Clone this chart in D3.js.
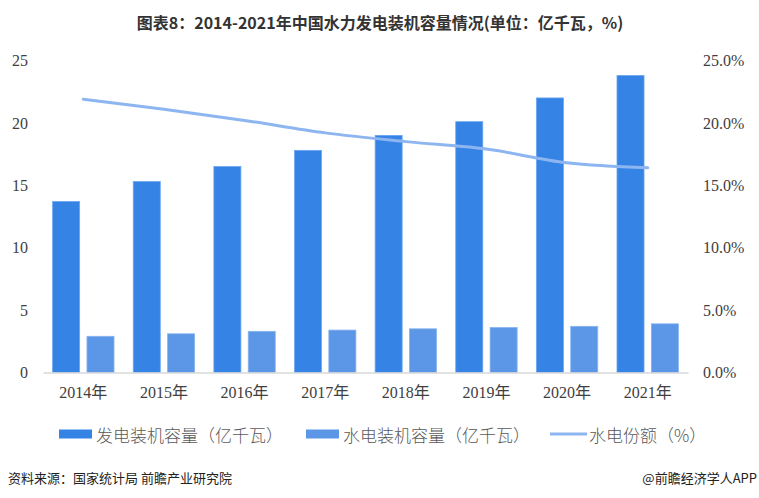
<!DOCTYPE html>
<html>
<head>
<meta charset="utf-8">
<script src="https://cdn.jsdelivr.net/npm/d3@7/dist/d3.min.js"></script>
<style>
  html, body { margin: 0; padding: 0; background: #fff; }
  svg { display: block; }
</style>
</head>
<body>
<svg id="chart" width="759" height="498"></svg>
<script>
const years = ["2014年","2015年","2016年","2017年","2018年","2019年","2020年","2021年"];
const totalCapacity = [13.7, 15.3, 16.5, 17.8, 19.0, 20.1, 22.0, 23.8];
const hydroCapacity = [2.9, 3.1, 3.3, 3.4, 3.5, 3.6, 3.7, 3.9];
const hydroShare = [0.219, 0.211, 0.202, 0.192, 0.185, 0.179, 0.168, 0.164];
const leftTicks = [0, 5, 10, 15, 20, 25];
const rightTicks = [0, 0.05, 0.10, 0.15, 0.20, 0.25];
const seriesNames = ["发电装机容量（亿千瓦）", "水电装机容量（亿千瓦）", "水电份额（%）"];
const titleText = "图表8：2014-2021年中国水力发电装机容量情况(单位：亿千瓦，%)";
const sourceText = "资料来源：国家统计局 前瞻产业研究院";
const brandText = "@前瞻经济学人APP";

const colors = { total: "#3683e6", hydro: "#5b97e6", line: "#8db5f0" };

const svg = d3.select("#chart");
const plot = { left: 43, right: 688, top: 60.5, bottom: 372.5 };

const x = d3.scaleBand().domain(years).range([plot.left, plot.right]).paddingInner(0).paddingOuter(0);
const x1 = d3.scaleBand().domain(["total","hydro"]).range([0, x.bandwidth()]).paddingInner(0.213).paddingOuter(0.28);
const y = d3.scaleLinear().domain([0, 25]).range([plot.bottom, plot.top]);
const y2 = d3.scaleLinear().domain([0, 0.25]).range([plot.bottom, plot.top]);

// Title
svg.append("text")
  .attr("x", 380).attr("y", 22)
  .attr("text-anchor", "middle").attr("dominant-baseline", "central")
  .style("font-family", "'Noto Sans CJK SC', sans-serif")
  .style("font-weight", "bold").style("font-size", "16px")
  .attr("fill", "#333")
  .text(titleText);

// Left axis
const leftAxis = d3.axisLeft(y).tickValues(leftTicks).tickSize(0).tickPadding(0).tickFormat(d3.format("d"));
const gL = svg.append("g").attr("transform", `translate(28,0)`).call(leftAxis);
gL.select(".domain").remove();
gL.selectAll("text")
  .style("font-family", "'Liberation Serif', serif").style("font-size", "16px")
  .attr("fill", "#404040");

// Right axis
const rightAxis = d3.axisRight(y2).tickValues(rightTicks).tickSize(0).tickPadding(0).tickFormat(d3.format(".1%"));
const gR = svg.append("g").attr("transform", `translate(703,0)`).call(rightAxis);
gR.select(".domain").remove();
gR.selectAll("text")
  .style("font-family", "'Liberation Serif', serif").style("font-size", "16px")
  .attr("fill", "#404040");

// Bars
const groups = svg.append("g").selectAll("g").data(years).join("g")
  .attr("transform", d => `translate(${x(d)},0)`);

groups.append("rect")
  .attr("x", x1("total")).attr("width", x1.bandwidth())
  .attr("y", (d,i) => y(totalCapacity[i]))
  .attr("height", (d,i) => y(0) - y(totalCapacity[i]))
  .attr("fill", colors.total)
  .attr("stroke", "#6aa7f2").attr("stroke-width", 0.8);

groups.append("rect")
  .attr("x", x1("hydro")).attr("width", x1.bandwidth())
  .attr("y", (d,i) => y(hydroCapacity[i]))
  .attr("height", (d,i) => y(0) - y(hydroCapacity[i]))
  .attr("fill", colors.hydro)
  .attr("stroke", "#86b3f0").attr("stroke-width", 0.8);

// Baseline
const xAxis = d3.axisBottom(x).tickSize(0).tickPadding(14);
const gX = svg.append("g").attr("transform", `translate(0,${plot.bottom})`).call(xAxis);
gX.select(".domain").attr("stroke", "#d9d9d9").attr("stroke-width", 1.5);
gX.selectAll("text")
  .style("font-family", "'Liberation Serif', 'Noto Sans CJK SC', serif").style("font-size", "16px")
  .attr("fill", "#404040");

// Line
const line = d3.line()
  .x((d,i) => x(years[i]) + x.bandwidth() / 2)
  .y(d => y2(d))
  .curve(d3.curveMonotoneX);
svg.append("path")
  .datum(hydroShare)
  .attr("d", line)
  .attr("fill", "none")
  .attr("stroke", colors.line)
  .attr("stroke-width", 3)
  .attr("stroke-linecap", "round");

// Legend
const legendY = 434;
const legend = svg.append("g");
const legendItems = [
  { sx: 59, sw: 33, type: "rect", color: colors.total, tx: 96, label: seriesNames[0] },
  { sx: 306, sw: 33, type: "rect", color: colors.hydro, tx: 343, label: seriesNames[1] },
  { sx: 550, sw: 37, type: "line", color: colors.line, tx: 589, label: seriesNames[2] }
];
legendItems.forEach(it => {
  if (it.type === "rect") {
    legend.append("rect").attr("x", it.sx).attr("y", legendY - 4.5).attr("width", it.sw).attr("height", 9).attr("fill", it.color);
  } else {
    legend.append("line").attr("x1", it.sx).attr("x2", it.sx + it.sw).attr("y1", legendY).attr("y2", legendY)
      .attr("stroke", it.color).attr("stroke-width", 3);
  }
  legend.append("text").attr("x", it.tx).attr("y", legendY).attr("dominant-baseline", "central")
    .style("font-family", "'Noto Sans CJK SC', sans-serif").style("font-size", "17px").style("font-weight", "300")
    .attr("fill", "#595959").text(it.label);
});

// Source
svg.append("text").attr("x", 8).attr("y", 477).attr("dominant-baseline", "central")
  .style("font-family", "'Noto Sans CJK SC', sans-serif").style("font-size", "13px")
  .attr("fill", "#222").text(sourceText);
svg.append("text").attr("x", 757).attr("y", 477).attr("dominant-baseline", "central").attr("text-anchor", "end")
  .style("font-family", "'Noto Sans CJK SC', sans-serif").style("font-size", "13px")
  .attr("fill", "#222").text(brandText);
</script>
</body>
</html>
